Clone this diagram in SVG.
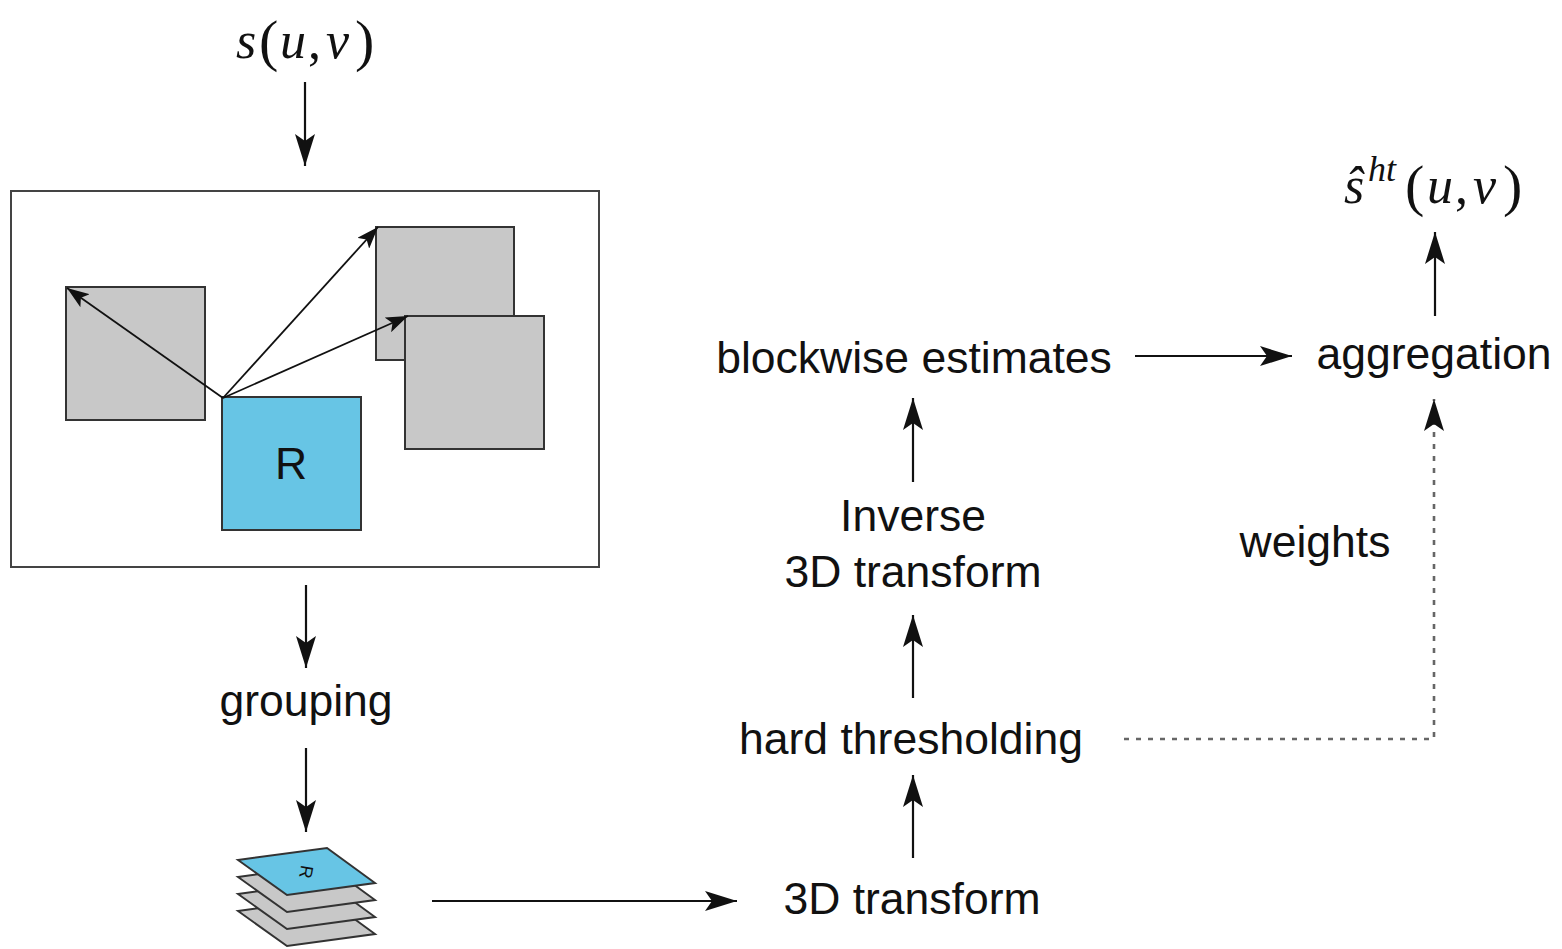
<svg xmlns="http://www.w3.org/2000/svg" width="1562" height="949" viewBox="0 0 1562 949">
  <style>
    .lbl { font-family: "Liberation Sans", Arial, sans-serif; font-size: 44.5px; fill: #111; text-anchor: middle; }
    .math { font-family: "Liberation Serif", "Times New Roman", serif; fill: #111; }
    .it { font-style: italic; }
    .par { font-size: 58px; }
    .blk { fill: #c8c8c8; stroke: #333; stroke-width: 2; }
    .ref { fill: #67c5e5; stroke: #333; stroke-width: 2; }
    .flow { stroke: #111; stroke-width: 2.2; fill: none; marker-end: url(#head); }
    .match { stroke: #111; stroke-width: 1.8; fill: none; marker-end: url(#headSmall); }
    .dot { stroke: #666; stroke-width: 2.6; fill: none; stroke-dasharray: 5 7; marker-end: url(#head); }
  </style>
  <defs>
    <marker id="head" viewBox="0 0 32 20" refX="32" refY="10" markerWidth="32" markerHeight="20" markerUnits="userSpaceOnUse" orient="auto">
      <path d="M0,0 L32,10 L0,20 L7,10 Z" fill="#111"/>
    </marker>
    <marker id="headSmall" viewBox="0 0 22 16" refX="22" refY="8" markerWidth="22" markerHeight="16" markerUnits="userSpaceOnUse" orient="auto">
      <path d="M0,0 L22,8 L0,16 L5,8 Z" fill="#111"/>
    </marker>
  </defs>

  <rect width="1562" height="949" fill="#fff"/>

  <!-- input signal -->
  <g id="input">
    <text class="math" font-size="52" y="58">
      <tspan class="it" x="236">s</tspan><tspan class="par" x="259" y="60">(</tspan><tspan class="it" x="280" y="58">u</tspan><tspan x="308">,</tspan><tspan class="it" x="326">v</tspan><tspan class="par" x="355" y="60">)</tspan>
    </text>
  </g>

  <!-- block matching frame -->
  <g id="matching">
    <rect x="11" y="191" width="588" height="376" fill="#fff" stroke="#444" stroke-width="2"/>
    <rect class="blk" x="66" y="287" width="139" height="133"/>
    <rect class="blk" x="376" y="227" width="138" height="133"/>
    <rect class="blk" x="405" y="316" width="139" height="133"/>
    <rect class="ref" x="222" y="397" width="139" height="133"/>
    <text class="lbl" x="291" y="479" font-size="42">R</text>
    <line class="match" x1="223" y1="398" x2="67" y2="288"/>
    <line class="match" x1="223" y1="398" x2="378" y2="227"/>
    <line class="match" x1="223" y1="398" x2="408" y2="316"/>
  </g>

  <g id="grouping"><text class="lbl" x="306" y="716">grouping</text></g>

  <!-- stacked group of similar blocks -->
  <g id="stack">
    <polygon class="blk" points="238,911 327,899 375,934 287,946"/>
    <polygon class="blk" points="238,894 327,882 375,917 287,929"/>
    <polygon class="blk" points="238,877 327,865 375,900 287,912"/>
    <polygon class="ref" points="238,860 327,848 375,883 287,895"/>
    <text x="306" y="878" transform="rotate(100 306 872)" font-family="Liberation Sans, Arial, sans-serif" font-size="18" fill="#111" text-anchor="middle">R</text>
  </g>

  <g id="transform3d"><text class="lbl" x="912" y="914">3D transform</text></g>
  <g id="threshold"><text class="lbl" x="911" y="754">hard thresholding</text></g>
  <g id="inverse">
    <text class="lbl" x="913" y="531">Inverse</text>
    <text class="lbl" x="913" y="587">3D transform</text>
  </g>
  <g id="estimates"><text class="lbl" x="914" y="373">blockwise estimates</text></g>
  <g id="aggregation"><text class="lbl" x="1434" y="369">aggregation</text></g>
  <g id="weights"><text class="lbl" x="1315" y="557">weights</text></g>

  <!-- output estimate -->
  <g id="output">
    <text class="math" font-size="52" y="203">
      <tspan class="it" x="1344">ŝ</tspan><tspan class="it" x="1368" y="181" font-size="36">ht</tspan><tspan class="par" x="1405" y="205">(</tspan><tspan class="it" x="1427" y="203">u</tspan><tspan x="1455">,</tspan><tspan class="it" x="1473">v</tspan><tspan class="par" x="1503" y="205">)</tspan>
    </text>
  </g>

  <!-- connectors -->
  <g id="connectors">
    <line class="flow" x1="305" y1="82" x2="305" y2="166"/>
    <line class="flow" x1="306" y1="585" x2="306" y2="668"/>
    <line class="flow" x1="306" y1="748" x2="306" y2="832"/>
    <line class="flow" x1="432" y1="901" x2="737" y2="901"/>
    <line class="flow" x1="913" y1="858" x2="913" y2="775"/>
    <line class="flow" x1="913" y1="698" x2="913" y2="615"/>
    <line class="flow" x1="913" y1="482" x2="913" y2="398"/>
    <line class="flow" x1="1135" y1="356" x2="1292" y2="356"/>
    <line class="flow" x1="1435" y1="316" x2="1435" y2="232"/>
    <polyline class="dot" points="1124,739 1434,739 1434,399"/>
  </g>
</svg>
